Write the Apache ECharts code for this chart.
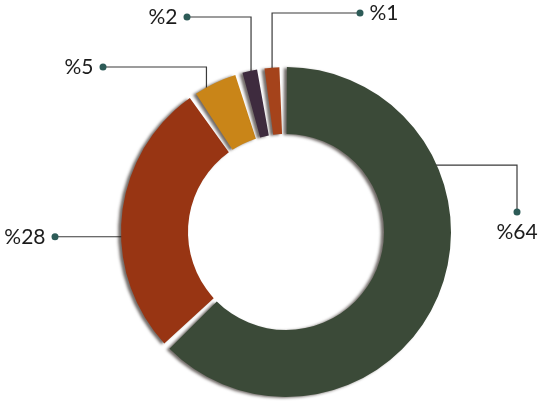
<!DOCTYPE html>
<html><head><meta charset="utf-8">
<script src="https://cdn.jsdelivr.net/npm/echarts@6/dist/echarts.min.js"></script>
<style>html,body{margin:0;padding:0;background:#fff}#c{width:538px;height:408px}</style>
</head><body><div id="c"></div>
<script>
// ---- data ----
const categories = ['Segment 1', 'Segment 2', 'Segment 3', 'Segment 4', 'Segment 5'];
const values = [64, 28, 5, 2, 1];

// ---- styles / layout (not data) ----
const sliceColors = ['#3b4a38', '#983513', '#c98518', '#3e2b3e', '#a5431b'];
const CX = 286, CY = 232, R0 = 98, R = 165;
const START = 91; // echarts startAngle
const leader = [
  { frac: 0.29, dr: 4, mode: 'hv', x: 517, y: 212 },
  { frac: 0.42, dr: 14, mode: 'h', x: 55 },
  { frac: 0.2, dr: 6, mode: 'vhL', x: 103, y: 67 },
  { frac: 0.5, dr: 6, mode: 'vhL', x: 187, y: 17 },
  { frac: 0.5, dr: 2, mode: 'vhR', x: 360, y: 13 }
];
const DOT = 7;
const textColor = '#1c1c1c';
const dotColor = '#2d5b57';

const chart = echarts.init(document.getElementById('c'), null, { renderer: 'canvas' });

function anchorOf(i) {
  const L = leader[i];
  const lay = chart.getModel().getSeriesByIndex(0).getData().getItemLayout(i);
  const a = lay.startAngle + L.frac * (lay.endAngle - lay.startAngle);
  const r = lay.r - L.dr;
  return [lay.cx + r * Math.cos(a), lay.cy + r * Math.sin(a)];
}

chart.setOption({
  backgroundColor: '#ffffff',
  animation: false,
  series: [{
    type: 'pie',
    center: [CX, CY],
    radius: [R0, R],
    startAngle: START,
    clockwise: true,
    padAngle: 2.6,
    minAngle: 5.2,
    selectedMode: false,
    avoidLabelOverlap: false,
    itemStyle: {
      shadowBlur: 3,
      shadowOffsetX: -3,
      shadowOffsetY: 1,
      shadowColor: 'rgba(20,10,5,0.6)'
    },
    emphasis: { disabled: true },
    label: {
      show: true,
      position: 'outside',
      fontFamily: 'Lato',
      formatter: function (p) {
        const t = '%' + p.value;
        const m = leader[p.dataIndex].mode;
        if (m === 'hv') return '{d|}\n{t2|' + t + '}';
        if (m === 'vhR') return '{d|}{s|}{t|' + t + '}';
        return '{t|' + t + '}{s|}{d|}';
      },
      rich: {
        t: { fontFamily: 'Lato', fontSize: 21, color: textColor, lineHeight: 26 },
        t2: { fontFamily: 'Lato', fontSize: 21, color: textColor, lineHeight: 26, padding: [8, 0, 0, 0] },
        s: { width: 6 },
        d: { width: DOT, height: DOT, borderRadius: DOT / 2, backgroundColor: dotColor }
      }
    },
    labelLine: {
      show: true,
      smooth: false,
      lineStyle: { color: '#3a3a3a', width: 1.2 }
    },
    labelLayout: function (p) {
      const i = p.dataIndex;
      const L = leader[i];
      const a = anchorOf(i);
      if (L.mode === 'hv') {
        return {
          x: L.x, y: L.y - DOT / 2, align: 'center', verticalAlign: 'top',
          labelLinePoints: [a, [L.x, a[1]], [L.x, L.y]]
        };
      }
      if (L.mode === 'h') {
        return {
          x: L.x + DOT / 2, y: a[1], align: 'right', verticalAlign: 'middle',
          labelLinePoints: [a, [(a[0] + L.x) / 2, a[1]], [L.x, a[1]]]
        };
      }
      if (L.mode === 'vhL') {
        return {
          x: L.x + DOT / 2, y: L.y, align: 'right', verticalAlign: 'middle',
          labelLinePoints: [a, [a[0], L.y], [L.x, L.y]]
        };
      }
      return {
        x: L.x - DOT / 2, y: L.y, align: 'left', verticalAlign: 'middle',
        labelLinePoints: [a, [a[0], L.y], [L.x, L.y]]
      };
    },
    data: categories.map((name, i) => ({
      name: name,
      value: values[i],
      itemStyle: { color: sliceColors[i] }
    }))
  }]
});
</script>
</body></html>
